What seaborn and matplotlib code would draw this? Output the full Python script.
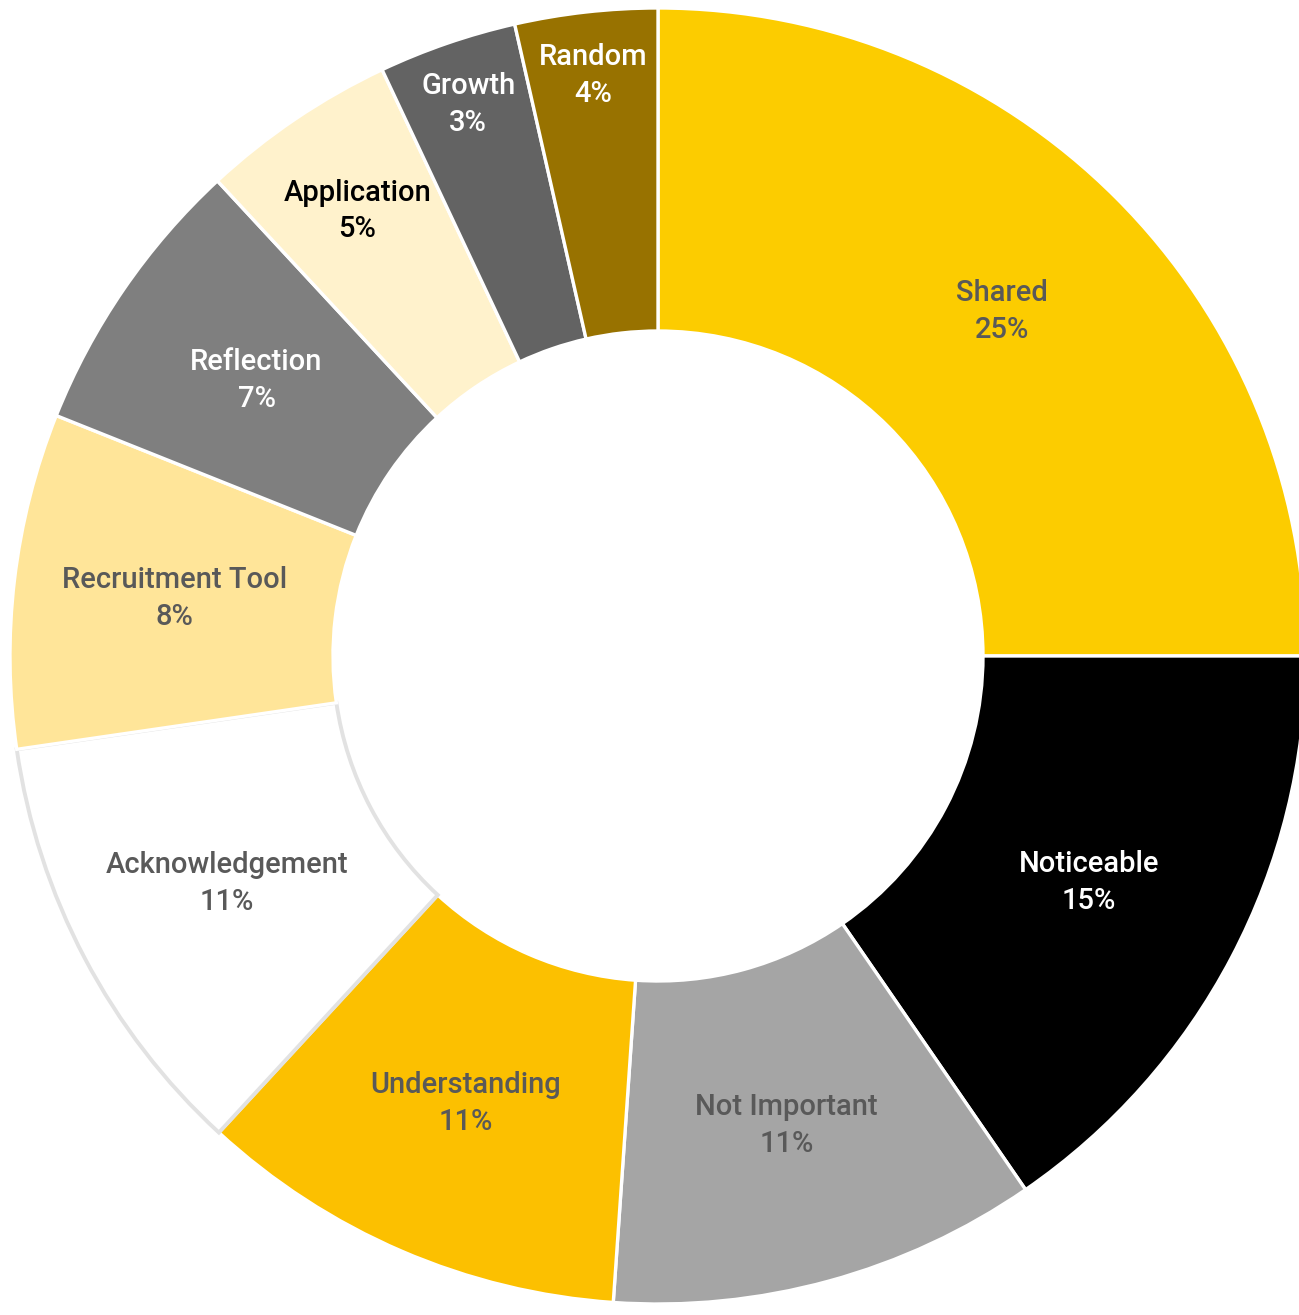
import matplotlib
matplotlib.use("Agg")
import matplotlib.pyplot as plt
import seaborn as sns
import numpy as np

categories = ["Shared", "Noticeable", "Not Important", "Understanding", "Acknowledgement",
              "Recruitment Tool", "Reflection", "Application", "Growth", "Random"]
values = [25.0, 15.4, 10.7, 10.75, 10.85, 8.35, 7.05, 4.9, 3.45, 3.55]
colors = ["#FCCC00", "#000000", "#A5A5A5", "#FCC000", "#FFFFFF",
          "#FFE599", "#7F7F7F", "#FFF2CC", "#636363", "#987200"]
text_colors = ["#595959", "#FFFFFF", "#595959", "#595959", "#595959",
               "#595959", "#FFFFFF", "#000000", "#FFFFFF", "#FFFFFF"]
label_radius = [487, 487, 487, 487, 487, 487, 487, 537, 583, 584]

sns.set_theme(style="white")
plt.rcParams['font.family'] = ['Roboto', 'DejaVu Sans']

W, H = 1299, 1315
fig = plt.figure(figsize=(W / 100, H / 100), dpi=100)
ax = fig.add_axes([0, 0, 1, 1])

cx, cy = 658, H - 656
R, width = 648, 323

wedges, _ = ax.pie(values, colors=colors, startangle=90, counterclock=False,
                   radius=R, center=(cx, cy),
                   wedgeprops=dict(width=width, edgecolor="white", linewidth=2.4))
# Acknowledgement has a light gray outline
wedges[4].set_edgecolor("#E2E2E2")
wedges[4].set_linewidth(2.8)

for w, name, v, tc, r in zip(wedges, categories, values, text_colors, label_radius):
    ang = np.deg2rad((w.theta1 + w.theta2) / 2)
    x = cx + r * np.cos(ang)
    y = cy + r * np.sin(ang)
    ax.text(x, y, f"{name}\n{int(round(v))}%", ha="center", va="center",
            multialignment="center", color=tc, fontsize=21, fontweight="medium",
            linespacing=1.4)

ax.set_xlim(0, W)
ax.set_ylim(0, H)
ax.set_aspect("auto")
ax.axis("off")

fig.savefig("out.png", dpi=100, facecolor="white")
